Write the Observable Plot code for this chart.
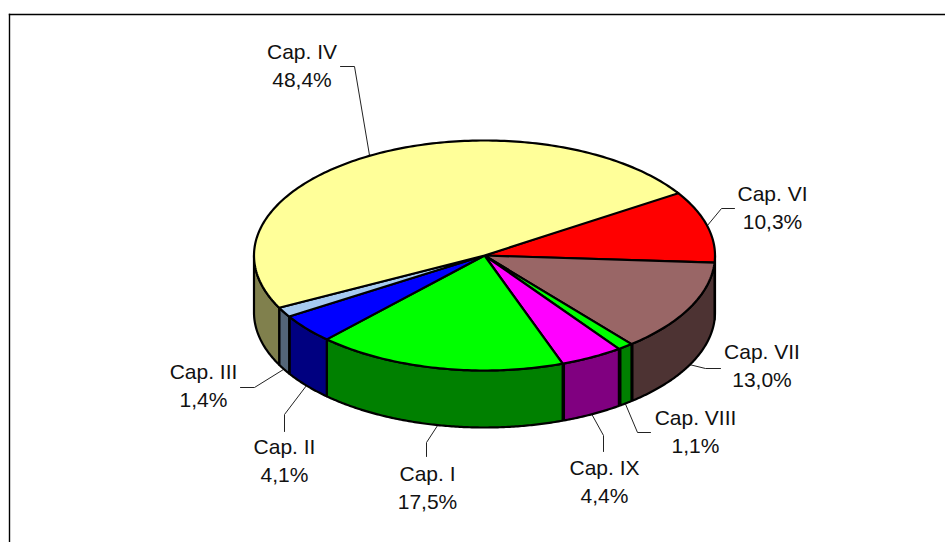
<!DOCTYPE html>
<html><head><meta charset="utf-8">
<style>html,body{margin:0;padding:0;background:#fff;overflow:hidden}svg{display:block}</style>
<script src="https://cdn.jsdelivr.net/npm/d3@7"></script>
<script src="https://cdn.jsdelivr.net/npm/@observablehq/plot@0.6"></script>
</head><body><script>
const chapters = ["Cap. VI","Cap. VII","Cap. VIII","Cap. IX","Cap. I","Cap. II","Cap. III","Cap. IV"];
const shares = [10.3,13.0,1.1,4.4,17.5,4.1,1.4,48.4];
const shareLabels = ["10,3%","13,0%","1,1%","4,4%","17,5%","4,1%","1,4%","48,4%"];
const topColors = ["#ff0000","#996666","#00ff00","#ff00ff","#00ff00","#0000ff","#a6caf0","#ffff99"];
const wallColors = ["#800000","#4d3333","#008000","#800080","#008000","#000080","#536578","#80804d"];

// pie geometry (page pixels)
const cx=484, cy=255, rx=230.5, ry=115, depth=57, W=945, H=542, mL=9, mT=14;
const firstAngle=-33.5; // degrees clockwise from 3 o'clock, where the first slice starts
const px=x=>(x-cx)/rx, py=y=>(y-cy)/ry;
// label layout in page pixels: [text x, text y, leader elbow and end]
const labelLayout = {
 "Cap. VI":[772,206,[[721,208],[734,208]]],
 "Cap. VII":[761.5,364,[[705,368],[720,368]]],
 "Cap. VIII":[695,430,[[637,432],[650,432]]],
 "Cap. IX":[604,480,[[603,435],[603,451]]],
 "Cap. I":[427,486,[[426,442],[426,456]]],
 "Cap. II":[284,459,[[284,414],[284,431]]],
 "Cap. III":[203,384,[[254,387],[240,387]]],
 "Cap. IV":[301.5,64,[[354,66],[340,66]]]
};
const rad=d=>d*Math.PI/180;
let a=firstAngle;
const tops=[],walls=[],leaders=[],labels=[];
chapters.forEach((name,i)=>{
  const start=a, end=a+shares[i]/100*360; a=end;
  const steps=d3.range(start,end,1).concat([end]);
  tops.push({name,c:topColors[i],x:0,y:0});
  steps.forEach(t=>tops.push({name,c:topColors[i],x:Math.cos(rad(t)),y:Math.sin(rad(t))}));
  tops.push({name,c:topColors[i],x:0,y:0});
  const norm=t=>((t%360)+360)%360;
  const vis=[];
  for(let t=start;t<=end+0.001;t+=0.5){const q=Math.min(t,end); if(norm(q)<=180) vis.push(q);}
  if(vis.length>1){
    const d=depth/ry;
    const upper=vis.map(t=>({name,c:wallColors[i],x:Math.cos(rad(t)),y:Math.sin(rad(t))}));
    const lower=vis.slice().reverse().map(t=>({name,c:wallColors[i],x:Math.cos(rad(t)),y:Math.sin(rad(t))+d}));
    walls.push(...upper,...lower,upper[0]);
  }
  const mid=(start+end)/2, lay=labelLayout[name];
  const onWall=norm(mid)<180;
  const s={x:Math.cos(rad(mid)),y:Math.sin(rad(mid))+(onWall?depth/ry:0)};
  leaders.push({name,...s});
  lay[2].forEach(p=>leaders.push({name,x:px(p[0]),y:py(p[1])}));
  labels.push({x:px(lay[0]),y:py(lay[1]),t:name+"\n"+shareLabels[i]});
});
const plot=Plot.plot({
  width:W,height:H,marginLeft:mL,marginTop:mT,marginRight:0,marginBottom:0,
  x:{domain:[px(mL),px(W)],range:[mL,W],axis:null},
  y:{domain:[py(mT),py(H)],range:[mT,H],axis:null},
  color:{type:"identity"},
  style:{background:"#fff"},
  marks:[
    Plot.frame({anchor:"top",stroke:"#000",strokeWidth:1.4}),
    Plot.frame({anchor:"left",stroke:"#000",strokeWidth:1.4}),
    Plot.line(leaders,{x:"x",y:"y",z:"name",stroke:"#222",strokeWidth:1,curve:"linear"}),
    Plot.line(walls,{x:"x",y:"y",z:"name",fill:"c",stroke:"#000",strokeWidth:2.2,strokeLinejoin:"round",curve:"linear"}),
    Plot.line(tops,{x:"x",y:"y",z:"name",fill:"c",stroke:"#000",strokeWidth:2.2,strokeLinejoin:"round",curve:"linear"}),
    Plot.text(labels,{x:"x",y:"y",text:"t",fontFamily:"Liberation Sans, Arial, sans-serif",fontSize:21,lineHeight:1.33,fill:"#111",textAnchor:"middle"})
  ]
});
document.body.appendChild(plot);
</script></body></html>
